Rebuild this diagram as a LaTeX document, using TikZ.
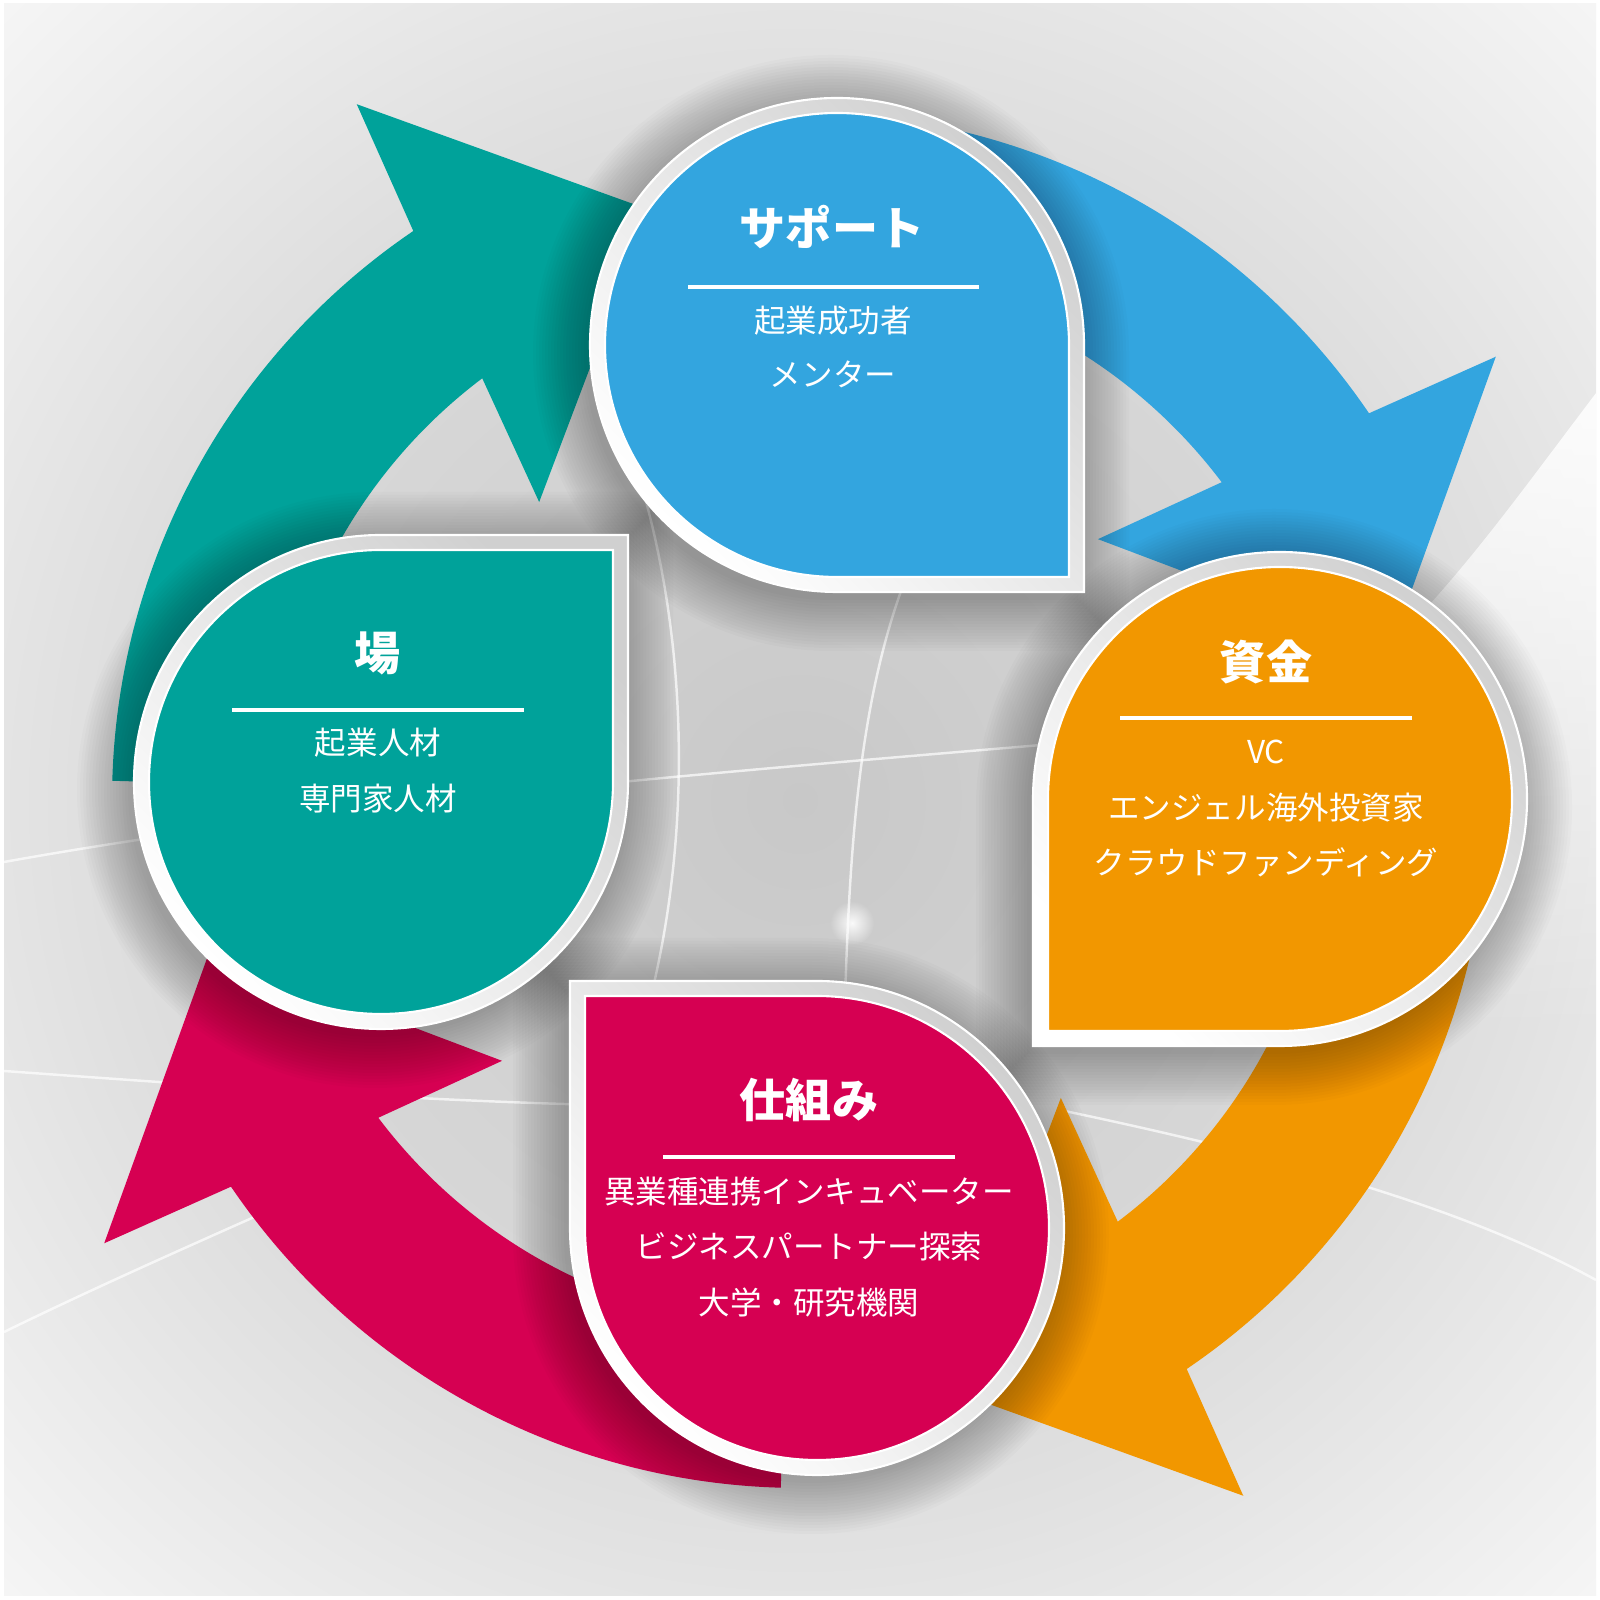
\documentclass[tikz,border=0pt]{standalone}
\usepackage{fontspec}
\setmainfont{Noto Sans CJK JP}
\usetikzlibrary{fadings}
\tikzfading[name=glowfade, inner color=transparent!0, outer color=transparent!100]
\tikzfading[name=fadedown, top color=transparent!0, bottom color=transparent!100]
\definecolor{cteal}{HTML}{00A29A}
\definecolor{cblue}{HTML}{33A5DF}
\definecolor{corange}{HTML}{F29700}
\definecolor{cmag}{HTML}{D60052}
\definecolor{bgin}{HTML}{C8C8C8}
\definecolor{bgmid}{HTML}{D8D8D8}
\definecolor{bgout}{HTML}{F8F8F8}
\definecolor{rimgray}{HTML}{D0D0D0}
\pgfdeclareradialshading{bgshade}{\pgfpoint{0bp}{0bp}}{color(0bp)=(bgin); color(18bp)=(bgmid); color(37bp)=(bgout); color(75bp)=(bgout)}
% teardrop: options, cx, cy, r, a (square corner quadrant a..a+90)
\newcommand\tdfill[5]{\path[#1] (#2,#3) ++(#5+90:#4) arc[start angle=#5+90, end angle=#5+360, radius=#4] -- ++(#5+90:#4) -- cycle;}
\newcommand\tdblock[5]{%
  \foreach \k in {1,...,18}{\tdfill{fill=black,opacity=0.017}{#1-6}{#2-8}{#3+12+3*\k}{#4}}%
}
\newcommand\tdface[5]{%
  \tdfill{top color=rimgray, bottom color=white, shading angle=-45, draw=white, line width=0.6pt}{#1}{#2}{#3+15}{#4}%
  \tdfill{fill=#5, draw=white, line width=0.6pt}{#1}{#2}{#3}{#4}%
}
\tikzset{
  ttl/.style={text=white, inner sep=0pt, font=\fontsize{13.1pt}{15pt}\selectfont\bfseries, text height=11.5pt, text depth=1.6pt},
  sub/.style={text=white, inner sep=0pt, font=\fontsize{8.96pt}{10pt}\selectfont, text height=7.9pt, text depth=1.1pt},
  uline/.style={white, line width=1.1pt},
  swoosh/.style={white, line width=0.7pt, opacity=0.7}
}
\begin{document}
\begin{tikzpicture}[x=0.01cm,y=0.01cm]
\useasboundingbox (0,0) rectangle (1600,1600);
\fill[white] (0,0) rectangle (1600,1600);
\shade[shading=bgshade] (4,4) rectangle (1596,1596);
% background light area (right)
\fill[white, path fading=fadedown] (1596,1300) -- (1596,1207) .. controls (1530,1120) and (1480,1050) .. (1420,985) -- (1440,560) -- (1596,560) -- cycle;
% background swooshes
\draw[swoosh] (4,738) .. controls (350,800) and (750,830) .. (1100,860);
\draw[swoosh] (4,529) .. controls (200,515) and (400,500) .. (600,495);
\draw[swoosh] (640,1120) .. controls (690,950) and (690,760) .. (650,600);
\draw[swoosh] (905,1020) .. controls (860,900) and (850,760) .. (845,600);
\draw[swoosh] (1060,490) .. controls (1250,450) and (1450,400) .. (1596,320);
\draw[swoosh] (4,268) .. controls (90,310) and (180,350) .. (270,390);
\fill[white, path fading=glowfade, opacity=0.9] (852,677) circle (22);
% arrows
\begin{scope}[shift={(800,800)}]
\foreach \c/\o in {cteal/0, cblue/270, corange/180, cmag/90}{
  \fill[\c] (178.4+\o:688) arc[start angle=178.4+\o, end angle=124.2+\o, radius=688]
    -- (122.5+\o:825) -- (104.3+\o:609) -- (131.2+\o:396) -- (127.0+\o:528)
    arc[start angle=127.0+\o, end angle=178.4+\o, radius=528] -- cycle;
}
\end{scope}
% shadows
\tdblock{837}{1255}{232}{-90}{cblue}
\tdblock{1280}{801}{232}{180}{corange}
\tdblock{817}{372}{232}{90}{cmag}
\tdblock{381}{818}{232}{0}{cteal}
% faces
\tdface{837}{1255}{232}{-90}{cblue}
\tdface{1280}{801}{232}{180}{corange}
\tdface{817}{372}{232}{90}{cmag}
\tdface{381}{818}{232}{0}{cteal}
% texts: support
\node[ttl] (t1) at (832,1372) {サポート};
\draw[uline] (688,1313) -- (979,1313);
\node[sub] (s1a) at (833,1279) {起業成功者};
\node[sub] (s1b) at (833,1225) {メンター};
% funding
\node[ttl] (t2) at (1266,938) {資金};
\draw[uline] (1120,882) -- (1412,882);
\node[sub] (s2a) at (1266,848) {VC};
\node[sub] (s2b) at (1266,792) {エンジェル海外投資家};
\node[sub] (s2c) at (1266,737) {クラウドファンディング};
% mechanism
\node[ttl] (t3) at (809,500) {仕組み};
\draw[uline] (663,443) -- (955,443);
\node[sub] (s3a) at (809,408) {異業種連携インキュベーター};
\node[sub] (s3b) at (809,353) {ビジネスパートナー探索};
\node[sub] (s3c) at (809,297) {大学・研究機関};
% place
\node[ttl] (t4) at (378,947) {場};
\draw[uline] (232,890) -- (524,890);
\node[sub] (s4a) at (378,857) {起業人材};
\node[sub] (s4b) at (378,801) {専門家人材};
\end{tikzpicture}
\end{document}
